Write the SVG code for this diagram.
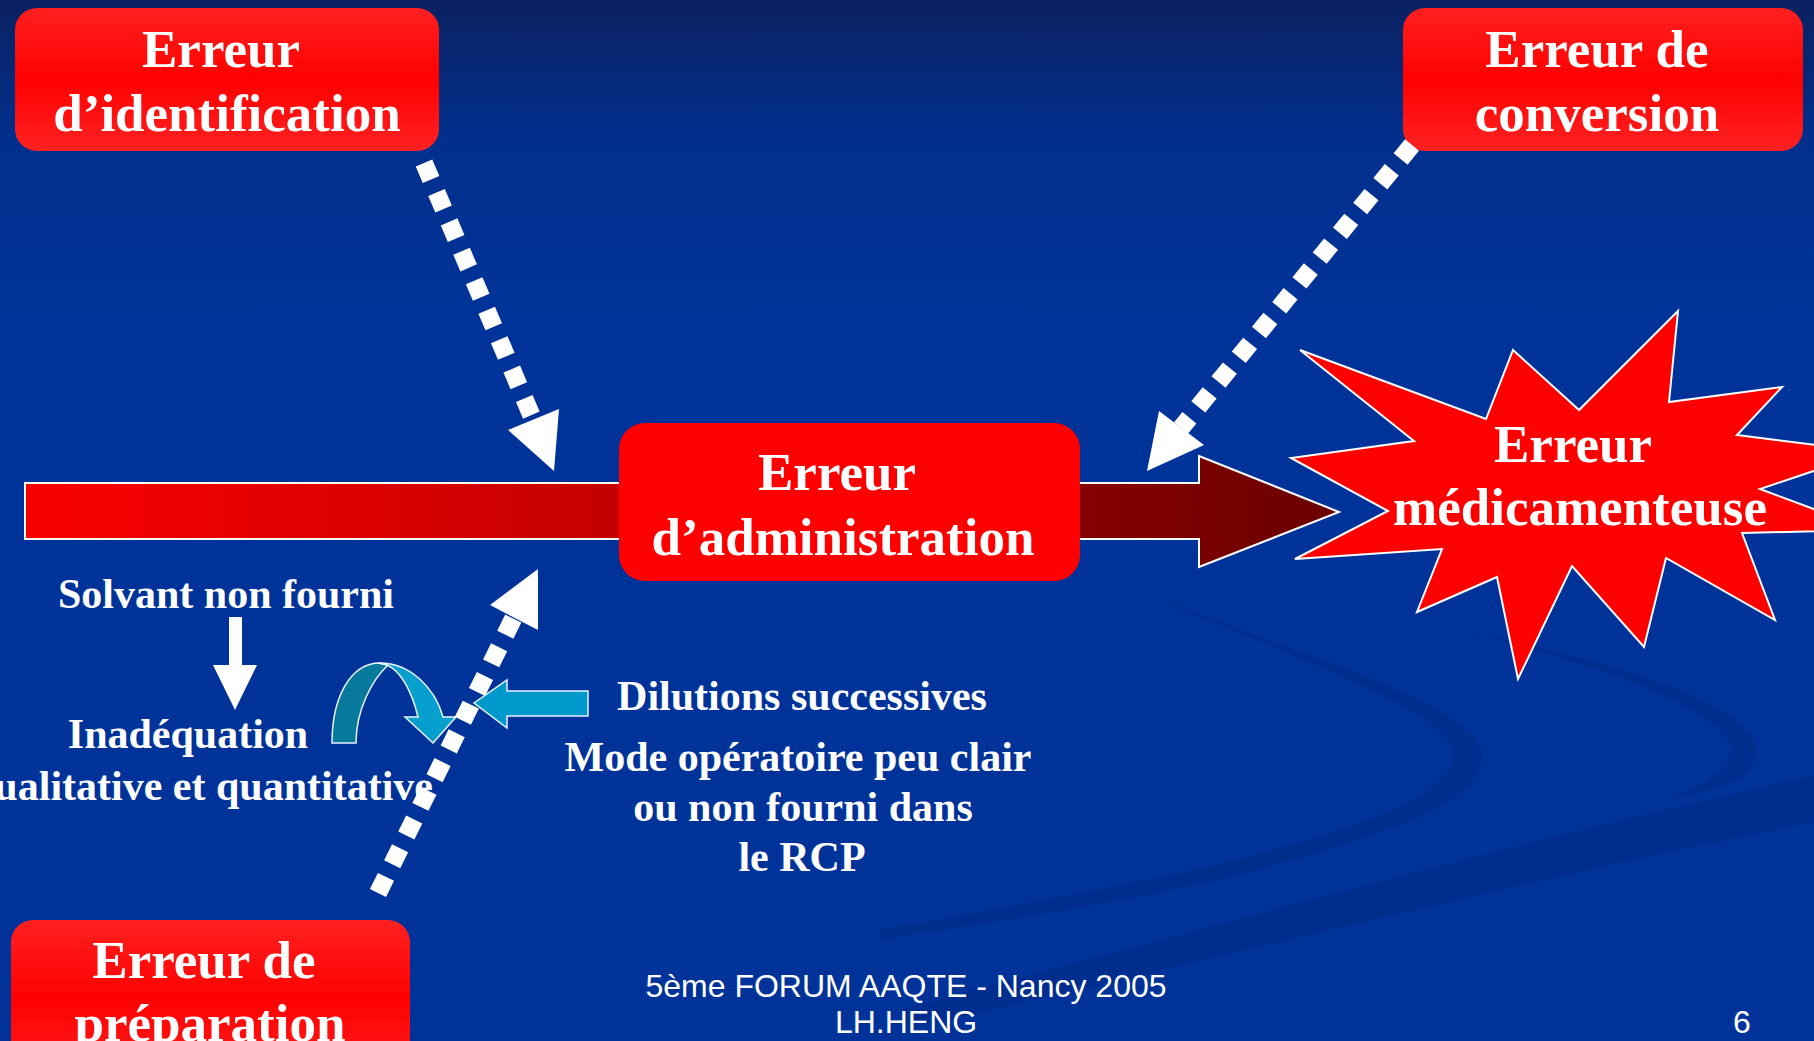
<svg xmlns="http://www.w3.org/2000/svg" width="1814" height="1041" viewBox="0 0 1814 1041">
<defs>
<linearGradient id="bg" x1="0" y1="0" x2="0" y2="1">
<stop offset="0" stop-color="#0b2160"/>
<stop offset="0.13" stop-color="#022f8c"/>
<stop offset="0.3" stop-color="#003399"/>
<stop offset="1" stop-color="#003399"/>
</linearGradient>
<linearGradient id="bar" gradientUnits="userSpaceOnUse" x1="25" y1="0" x2="1339" y2="0">
<stop offset="0" stop-color="#fa0000"/>
<stop offset="0.45" stop-color="#c40000"/>
<stop offset="0.8" stop-color="#860000"/>
<stop offset="1" stop-color="#6a0000"/>
</linearGradient>
<linearGradient id="box" x1="0" y1="0" x2="0" y2="1">
<stop offset="0" stop-color="#ff2020"/>
<stop offset="0.5" stop-color="#ff0000"/>
<stop offset="1" stop-color="#ff2222"/>
</linearGradient>
<style>
.t{font-family:"Liberation Serif","Times New Roman",serif;font-weight:bold;fill:#ffffff;}
.big{font-size:53px;}
.mid{font-size:42px;}
.foot{font-family:"Liberation Sans",Arial,sans-serif;font-size:32px;fill:#ffffff;}
.box{fill:url(#box);}
.dash{fill:none;stroke:#ffffff;stroke-width:18;stroke-dasharray:18 14;}
.head{fill:#ffffff;}
.swoosh{fill:#002c88;fill-opacity:0.6;stroke:none;}
</style>
</defs>
<rect width="1814" height="1041" fill="url(#bg)"/>
<g id="background-swooshes">
<path class="swoosh" d="M1078,566 C1250,640 1440,690 1478,740 C1505,795 1400,832 1250,872 C1150,898 1000,922 880,940 L880,930 C1000,908 1150,882 1250,856 C1380,822 1462,790 1452,745 C1425,700 1250,640 1078,566 Z"/>
<path class="swoosh" d="M1440,625 C1600,660 1725,692 1756,742 C1768,772 1725,792 1665,800 C1712,784 1738,765 1728,740 C1700,700 1600,665 1440,625 Z"/>
<path class="swoosh" d="M900,1010 C1200,930 1500,845 1814,775 L1814,822 C1500,885 1200,965 900,1030 Z"/>
</g>
<g id="main-arrow">
<polygon points="25,483 1199,483 1199,456 1339,512 1199,567 1199,539 25,539" fill="url(#bar)" stroke="#ffffff" stroke-width="2"/>
</g>
<g id="node-identification">
<rect class="box" x="15" y="8" width="424" height="143" rx="22"/>
<text class="t big" x="221" y="67" text-anchor="middle">Erreur</text>
<text class="t big" x="227" y="131" text-anchor="middle">d’identification</text>
</g>
<g id="node-conversion">
<rect class="box" x="1403" y="8" width="400" height="143" rx="22"/>
<text class="t big" x="1597" y="67" text-anchor="middle">Erreur de</text>
<text class="t big" x="1597" y="131" text-anchor="middle">conversion</text>
</g>
<g id="node-preparation">
<rect class="box" x="11" y="920" width="399" height="160" rx="22"/>
<text class="t big" x="204" y="978" text-anchor="middle">Erreur de</text>
<text class="t big" x="210" y="1041" text-anchor="middle">préparation</text>
</g>
<g id="node-administration">
<rect x="619" y="423" width="461" height="158" rx="26" fill="#ff0000"/>
<text class="t big" x="837" y="490" text-anchor="middle">Erreur</text>
<text class="t big" x="843" y="555" text-anchor="middle">d’administration</text>
</g>
<g id="node-medicamenteuse">
<polygon points="1300,350 1486,419 1513,350 1579,410 1678,311 1669,402 1782,387 1737,435 1870,452 1760,489 1870,530 1742,533 1775,620 1666,558 1644,647 1572,566 1518,679 1497,577 1417,612 1442,549 1295,559 1388,511 1291,458 1414,441" fill="#ff0000" stroke="#ffffff" stroke-width="2"/>
<text class="t big" x="1573" y="462" text-anchor="middle">Erreur</text>
<text class="t big" x="1580" y="525" text-anchor="middle">médicamenteuse</text>
</g>
<g id="labels">
<text class="t mid" x="226" y="608" text-anchor="middle">Solvant non fourni</text>
<text class="t mid" x="188" y="748" text-anchor="middle">Inadéquation</text>
<text class="t mid" x="433" y="800" text-anchor="end">qualitative et quantitative</text>
<text class="t mid" x="802" y="710" text-anchor="middle">Dilutions successives</text>
<text class="t mid" x="798" y="771" text-anchor="middle">Mode opératoire peu clair</text>
<text class="t mid" x="803" y="821" text-anchor="middle">ou non fourni dans</text>
<text class="t mid" x="802" y="871" text-anchor="middle">le RCP</text>
</g>
<g id="connectors">
<path class="dash" d="M424,163 L533,419"/>
<polygon class="head" points="508,430 559,409 554,471"/>
<path class="dash" d="M1412,145 L1181,428"/>
<polygon class="head" points="1159,411 1204,445 1147,471"/>
<path class="dash" d="M378,893 L514,617"/>
<polygon class="head" points="490,605 538,630 538,569"/>
<polygon class="head" points="229,617 242,617 242,665 257,665 235,710 213,665 229,665"/>
<polygon points="588,691 507,691 507,680 474,703 507,728 507,716 588,716" fill="#0099cc" stroke="#e8f4ff" stroke-width="1.5"/>
<path d="M332,743 C332,698 350,663 380,663 L388,665 C372,680 356,710 356,743 Z" fill="#077a9c" stroke="#e8f4ff" stroke-width="1.5"/>
<path d="M378,663 C410,662 435,688 443,717 L456,717 L433,743 L405,717 L418,717 C412,692 401,671 387,665 Z" fill="#079fcd" stroke="#e8f4ff" stroke-width="1.5"/>
</g>
<g id="footer">
<text class="foot" x="906" y="997" text-anchor="middle">5ème FORUM AAQTE - Nancy 2005</text>
<text class="foot" x="906" y="1033" text-anchor="middle">LH.HENG</text>
<text class="foot" x="1742" y="1033" text-anchor="middle">6</text>
</g>
</svg>
